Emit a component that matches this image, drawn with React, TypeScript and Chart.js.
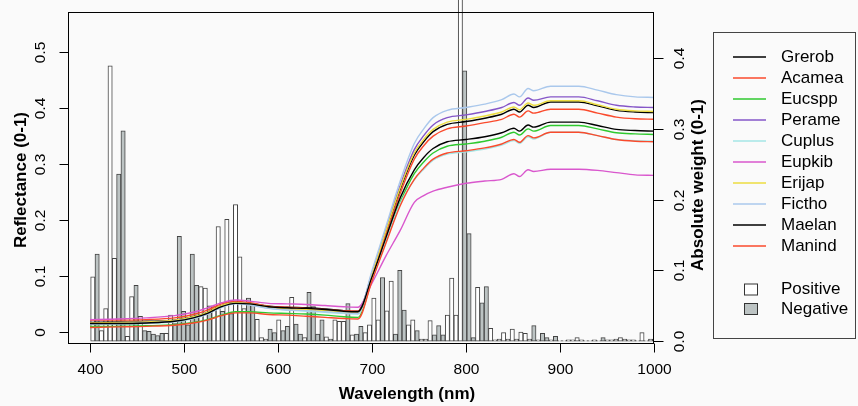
import React, { useEffect, useRef } from 'react';
import { Chart, registerables } from 'chart.js';

Chart.register(...registerables);

// ---------- data ----------
const wavelengths = [400, 430, 460, 490, 510, 525, 540, 555, 570, 590, 610, 630, 650, 670, 685, 700, 715, 730, 745, 755, 765, 780, 800, 820, 838, 851, 857, 866, 872, 890, 920, 940, 960, 980, 1000];

const grerob = [0.018, 0.019, 0.020, 0.022, 0.028, 0.036, 0.048, 0.054, 0.052, 0.047, 0.045, 0.044, 0.042, 0.039, 0.038, 0.103, 0.180, 0.255, 0.316, 0.340, 0.358, 0.371, 0.376, 0.382, 0.389, 0.398, 0.393, 0.405, 0.401, 0.411, 0.411, 0.404, 0.396, 0.393, 0.392];
const acamea = [0.022, 0.022, 0.023, 0.026, 0.032, 0.040, 0.051, 0.056, 0.053, 0.047, 0.045, 0.043, 0.041, 0.039, 0.038, 0.100, 0.175, 0.248, 0.309, 0.333, 0.350, 0.363, 0.368, 0.374, 0.380, 0.389, 0.384, 0.395, 0.391, 0.398, 0.398, 0.391, 0.384, 0.381, 0.380];
const eucspp = [0.011, 0.011, 0.012, 0.014, 0.018, 0.023, 0.031, 0.037, 0.037, 0.035, 0.034, 0.033, 0.031, 0.028, 0.027, 0.094, 0.164, 0.232, 0.283, 0.304, 0.320, 0.332, 0.336, 0.341, 0.348, 0.357, 0.352, 0.363, 0.359, 0.369, 0.369, 0.363, 0.356, 0.354, 0.353];
const perame = [0.017, 0.018, 0.019, 0.021, 0.027, 0.035, 0.047, 0.053, 0.051, 0.045, 0.043, 0.042, 0.040, 0.037, 0.036, 0.106, 0.185, 0.262, 0.326, 0.351, 0.370, 0.383, 0.388, 0.394, 0.401, 0.410, 0.405, 0.418, 0.414, 0.420, 0.420, 0.413, 0.405, 0.402, 0.401];
const cuplus = [0.015, 0.015, 0.016, 0.019, 0.025, 0.033, 0.045, 0.052, 0.050, 0.043, 0.040, 0.038, 0.036, 0.034, 0.033, 0.096, 0.165, 0.230, 0.272, 0.291, 0.307, 0.318, 0.322, 0.327, 0.334, 0.342, 0.337, 0.349, 0.345, 0.357, 0.357, 0.351, 0.344, 0.342, 0.341];
const eupkib = [0.023, 0.024, 0.026, 0.030, 0.036, 0.044, 0.053, 0.058, 0.056, 0.052, 0.051, 0.050, 0.048, 0.046, 0.045, 0.088, 0.137, 0.182, 0.232, 0.244, 0.252, 0.259, 0.266, 0.270, 0.273, 0.283, 0.278, 0.290, 0.287, 0.291, 0.291, 0.289, 0.285, 0.281, 0.280];
const erijap = [0.017, 0.018, 0.019, 0.022, 0.028, 0.036, 0.048, 0.053, 0.051, 0.046, 0.042, 0.041, 0.039, 0.036, 0.035, 0.104, 0.182, 0.258, 0.320, 0.344, 0.362, 0.375, 0.380, 0.386, 0.393, 0.402, 0.397, 0.409, 0.405, 0.413, 0.413, 0.406, 0.398, 0.395, 0.394];
const fictho = [0.015, 0.016, 0.017, 0.020, 0.026, 0.033, 0.045, 0.051, 0.049, 0.043, 0.040, 0.039, 0.037, 0.035, 0.034, 0.110, 0.190, 0.270, 0.337, 0.363, 0.383, 0.396, 0.401, 0.407, 0.415, 0.425, 0.420, 0.435, 0.431, 0.439, 0.439, 0.432, 0.424, 0.420, 0.419];
const maelan = [0.016, 0.016, 0.017, 0.020, 0.026, 0.034, 0.046, 0.052, 0.051, 0.046, 0.044, 0.043, 0.041, 0.038, 0.037, 0.099, 0.170, 0.240, 0.290, 0.312, 0.328, 0.340, 0.344, 0.349, 0.356, 0.364, 0.359, 0.370, 0.366, 0.375, 0.375, 0.369, 0.362, 0.360, 0.359];
const manind = [0.009, 0.010, 0.011, 0.013, 0.017, 0.022, 0.030, 0.035, 0.035, 0.032, 0.031, 0.029, 0.027, 0.025, 0.024, 0.092, 0.160, 0.226, 0.273, 0.293, 0.309, 0.320, 0.324, 0.329, 0.336, 0.344, 0.339, 0.351, 0.347, 0.357, 0.357, 0.351, 0.344, 0.341, 0.340];

const speciesNames = ['Grerob', 'Acamea', 'Eucspp', 'Perame', 'Cuplus', 'Eupkib', 'Erijap', 'Fictho', 'Maelan', 'Manind'];
const speciesValues = [grerob, acamea, eucspp, perame, cuplus, eupkib, erijap, fictho, maelan, manind];
const speciesColors = ['#000000', '#fa4a2c', '#2fc92f', '#8556c8', '#a4e6e6', '#d957cd', '#ecdc40', '#aac8ec', '#000000', '#fa4a2c'];

// band weights (positive = white bars, negative = grey bars), one per spectral band
const bandStart = 403;
const bandStep = 4.6;
const weights = [
  0.091, -0.123, 0.015, 0.046, 0.389, 0.117, -0.236, -0.297, 0.007, 0.063,
  -0.079, 0.035, -0.015, -0.014, -0.010, -0.008, -0.011, 0.011, 0.037, -0.025,
  -0.148, -0.042, -0.023, -0.123, -0.079, 0.077, 0.075, -0.050, 0.049, 0.162,
  -0.042, 0.172, -0.039, 0.193, 0.119, 0.046, -0.061, -0.051, 0.031, 0.005,
  0.003, -0.017, -0.012, 0.030, -0.015, -0.021, 0.062, -0.024, -0.010, 0.005,
  -0.069, -0.049, -0.010, -0.030, 0.006, -0.003, 0.030, 0.028, 0.028, -0.053,
  0.009, -0.010, -0.021, 0.012, 0.023, 0.061, 0.030, -0.090, 0.043, 0.085,
  -0.010, -0.100, -0.044, 0.023, 0.030, -0.015, 0.003, 0.003, 0.029, -0.009,
  -0.022, -0.009, 0.037, 0.089, 0.037, 0.600, -0.382, -0.152, -0.005, 0.076,
  -0.054, -0.077, 0.018, 0.002, 0.003, 0.012, 0.003, 0.017, 0.003, 0.013,
  0.011, 0.003, -0.022, 0.002, -0.011, -0.005, 0.002, -0.007, 0.001, 0.001,
  0.002, 0.002, 0.005, 0.002, 0.001, 0.001, 0.002, 0.001, -0.005, 0.002,
  0.002, 0.003, 0.005, 0.003, 0.002, 0.002, 0.001, 0.012, 0.001, 0.003,
];

const xTicks = [400, 500, 600, 700, 800, 900, 1000];
const reflTicks = [0, 0.1, 0.2, 0.3, 0.4, 0.5];
const reflTickLabels = ['0', '0.1', '0.2', '0.3', '0.4', '0.5'];
const weightTicks = [0, 0.1, 0.2, 0.3, 0.4];
const weightTickLabels = ['0.0', '0.1', '0.2', '0.3', '0.4'];
const signLabels = ['Positive', 'Negative'];

const FONT = '"Liberation Sans", Arial, Helvetica, sans-serif';
const WHITE_FILL = '#ffffff';
const GREY_FILL = '#bcc3c3';

function rotText(ctx: CanvasRenderingContext2D, text: string, x: number, y: number) {
  ctx.save();
  ctx.translate(x, y);
  ctx.rotate(-Math.PI / 2);
  ctx.fillText(text, 0, 0);
  ctx.restore();
}

const rAxesPlugin = {
  id: 'rAxes',
  afterDraw(chart: any) {
    const { ctx, chartArea: a, scales } = chart;
    const sx = scales.x, sy = scales.y, sy2 = scales.y2;
    ctx.save();
    ctx.strokeStyle = '#000';
    ctx.fillStyle = '#000';
    ctx.lineWidth = 1;
    const L = Math.round(a.left) + 0.5, R = Math.round(a.right) - 0.5;
    const T = Math.round(a.top) + 0.5, B = Math.round(a.bottom) - 0.5;
    ctx.strokeRect(L, T, R - L, B - T);

    const line = (x1: number, y1: number, x2: number, y2: number) => {
      ctx.beginPath(); ctx.moveTo(x1, y1); ctx.lineTo(x2, y2); ctx.stroke();
    };

    // bottom axis
    ctx.font = `15.5px ${FONT}`;
    ctx.textAlign = 'center';
    ctx.textBaseline = 'middle';
    xTicks.forEach((v) => {
      const px = Math.round(sx.getPixelForValue(v)) + 0.5;
      line(px, B, px, B + 9);
      ctx.fillText(String(v), px, 370);
    });
    ctx.font = `bold 17px ${FONT}`;
    ctx.fillText('Wavelength (nm)', 407, 394);

    // left axis
    ctx.font = `15.5px ${FONT}`;
    reflTicks.forEach((v, i) => {
      const py = Math.round(sy.getPixelForValue(v)) + 0.5;
      line(L - 9, py, L, py);
      rotText(ctx, reflTickLabels[i], 41, py);
    });
    ctx.font = `bold 17px ${FONT}`;
    rotText(ctx, 'Reflectance (0-1)', 21, 180);

    // right axis
    ctx.font = `15.5px ${FONT}`;
    weightTicks.forEach((v, i) => {
      const py = Math.round(sy2.getPixelForValue(v)) + 0.5;
      line(R, py, R + 10, py);
      rotText(ctx, weightTickLabels[i], 680, py);
    });
    ctx.font = `bold 17px ${FONT}`;
    rotText(ctx, 'Absolute weight (0-1)', 698, 185);

    // legend
    ctx.strokeStyle = '#444';
    ctx.strokeRect(713.5, 32.5, 142, 306);
    ctx.font = `17px ${FONT}`;
    ctx.textAlign = 'left';
    speciesNames.forEach((name, i) => {
      const yy = 57 + 21 * i;
      ctx.strokeStyle = speciesColors[i];
      ctx.lineWidth = 1.5;
      line(733, yy, 766, yy);
      ctx.fillStyle = '#000';
      ctx.fillText(name, 781, yy);
    });
    ctx.lineWidth = 1;
    signLabels.forEach((name, i) => {
      const yy = 289.5 + 19.5 * i;
      ctx.fillStyle = i === 0 ? WHITE_FILL : GREY_FILL;
      ctx.strokeStyle = '#333';
      ctx.fillRect(744.5, yy - 5.5, 13, 11);
      ctx.strokeRect(744.5, yy - 5.5, 13, 11);
      ctx.fillStyle = '#000';
      ctx.fillText(name, 781, yy);
    });
    ctx.restore();
  },
};

export default function App() {
  const ref = useRef<HTMLCanvasElement | null>(null);

  useEffect(() => {
    if (!ref.current) return;
    const lineSets = speciesNames.map((name, i) => ({
      type: 'line' as const,
      label: name,
      data: wavelengths.map((w, j) => ({ x: w, y: speciesValues[i][j] })),
      borderColor: speciesColors[i],
      backgroundColor: speciesColors[i],
      borderWidth: 1.4,
      pointRadius: 0,
      cubicInterpolationMode: 'monotone' as const,
      xAxisID: 'x',
      yAxisID: 'y',
      order: 50 - i,
    }));
    const barSet = {
      type: 'bar' as const,
      label: 'weights',
      data: weights.map((w, i) => ({ x: bandStart + i * bandStep, y: Math.abs(w) })),
      backgroundColor: weights.map((w) => (w >= 0 ? WHITE_FILL : GREY_FILL)),
      borderColor: '#444444',
      borderWidth: 1,
      borderSkipped: false,
      barPercentage: 1,
      categoryPercentage: 1,
      xAxisID: 'x',
      yAxisID: 'y2',
      clip: false as any,
      order: 100,
    };
    const chart = new Chart(ref.current, {
      type: 'bar',
      data: { datasets: [barSet as any, ...lineSets] },
      options: {
        animation: false,
        responsive: false,
        devicePixelRatio: 1,
        events: [],
        layout: { padding: { left: 68, right: 204, top: 12, bottom: 62 } },
        plugins: { legend: { display: false }, tooltip: { enabled: false } },
        scales: {
          x: { type: 'linear', display: false, min: 376.6, max: 1000, offset: false },
          y: { type: 'linear', display: false, min: -0.0205, max: 0.5713 },
          y2: { type: 'linear', display: false, min: -0.004, max: 0.465 },
        },
      },
      plugins: [rAxesPlugin],
    });
    return () => chart.destroy();
  }, []);

  return (
    <div style={{ position: 'fixed', left: 0, top: 0, width: 858, height: 406, background: '#fafafa' }}>
      <canvas ref={ref} width={858} height={406} style={{ display: 'block' }} />
    </div>
  );
}
